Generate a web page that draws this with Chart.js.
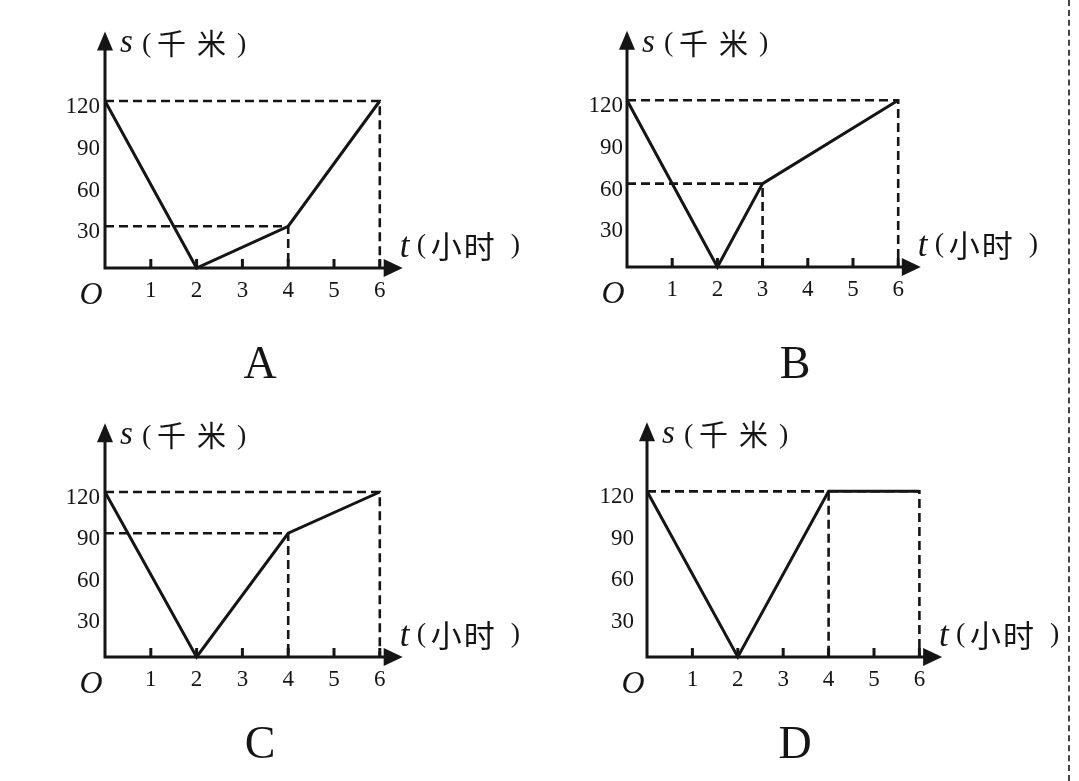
<!DOCTYPE html>
<html><head><meta charset="utf-8">
<script src="https://cdn.jsdelivr.net/npm/chart.js@4.4.1/dist/chart.umd.min.js"></script>
<style>
html,body{margin:0;padding:0;background:#fff;width:1079px;height:781px;overflow:hidden}
#wrap{position:relative;width:1079px;height:781px;background:#fff}
#wrap canvas{position:absolute;left:0;top:0}
#sep{position:absolute;left:1068px;top:0;height:781px;border-left:2px dashed #444}
</style></head><body>
<div id="wrap"><div id="sep"></div></div>
<script>
// ---- data ----
const xTicks = [1, 2, 3, 4, 5, 6];
const yTicks = [30, 60, 90, 120];
const panelLetters = ['A', 'B', 'C', 'D'];
const tA = [0, 2, 4, 6], sA = [120, 0, 30, 120];
const tB = [0, 2, 3, 6], sB = [120, 0, 60, 120];
const tC = [0, 2, 4, 6], sC = [120, 0, 90, 120];
const tD = [0, 2, 4, 6], sD = [120, 0, 120, 120];
const guidesA = [[6, 120], [4, 30]];
const guidesB = [[6, 120], [3, 60]];
const guidesC = [[6, 120], [4, 90]];
const guidesD = [[6, 120], [4, 120]];
const xMax = 6.5, yMax = 170;   // axis arrow tips
const yLabel = ['s', '(', '千', '米', ')'];
const xLabel = ['t', '(', '小', '时', ')'];

// ---- layout (positions / styles) ----
const W = 1079, H = 781, YW = 60, XH = 40;
const INK = '#151515';
const panels = [
  {t: tA, s: sA, g: guidesA, ox: 105, oy: 268, ux: 45.8, uy: 167 / 120, yPad: 5, letter: [260, 366]},
  {t: tB, s: sB, g: guidesB, ox: 627, oy: 267, ux: 45.2, uy: 166.7 / 120, yPad: 4, letter: [795, 366]},
  {t: tC, s: sC, g: guidesC, ox: 105, oy: 657, ux: 45.8, uy: 165 / 120, yPad: 5, letter: [260, 746]},
  {t: tD, s: sD, g: guidesD, ox: 647, oy: 657, ux: 45.4, uy: 165.7 / 120, yPad: 13, letter: [795, 746]}
];
const yLabelDx = [15, 37, 52, 92, 132];
const xLabelDx = [-3, 14, 28, 61, 108];
const serif = '"Liberation Serif", "Times New Roman", serif';
const cjk = '"Noto Sans CJK SC", sans-serif';

function drawPieces(ctx, pieces, offs, x0, cy, italicSize, cjkSize) {
  pieces.forEach((ch, k) => {
    const x = x0 + offs[k];
    if (k === 0) {
      ctx.font = 'italic ' + italicSize + 'px ' + serif;
      ctx.textBaseline = 'alphabetic';
      ctx.fillText(ch, x, cy + (ch === 't' ? 11 : 8));
    } else if (ch === '(' || ch === ')') {
      ctx.font = '28px ' + serif;
      ctx.textBaseline = 'middle';
      ctx.fillText(ch, x, cy);
    } else {
      ctx.font = cjkSize + 'px ' + cjk;
      ctx.textBaseline = 'middle';
      ctx.fillText(ch, x, cy);
    }
  });
}

function decoPlugin(i) {
  const p = panels[i];
  return {
    id: 'deco' + i,
    afterDatasetsDraw(chart) {
      const ctx = chart.ctx, xs = chart.scales.x, ys = chart.scales.y;
      const X = v => xs.getPixelForValue(v), Y = v => ys.getPixelForValue(v);
      const ox = X(0), oy = Y(0), tx = X(xMax), ty = Y(yMax);
      ctx.save();
      ctx.strokeStyle = INK; ctx.fillStyle = INK; ctx.lineWidth = 3; ctx.setLineDash([]);
      ctx.beginPath();
      ctx.moveTo(ox, oy + 1.5); ctx.lineTo(ox, ty + 12);
      ctx.moveTo(ox - 1.5, oy); ctx.lineTo(tx - 12, oy);
      ctx.stroke();
      ctx.beginPath(); ctx.moveTo(tx, oy); ctx.lineTo(tx - 19, oy - 9); ctx.lineTo(tx - 19, oy + 9); ctx.closePath(); ctx.fill();
      ctx.beginPath(); ctx.moveTo(ox, ty); ctx.lineTo(ox - 8, ty + 19); ctx.lineTo(ox + 8, ty + 19); ctx.closePath(); ctx.fill();
      ctx.beginPath();
      xTicks.forEach(v => { ctx.moveTo(X(v), oy); ctx.lineTo(X(v), oy - 9); });
      ctx.stroke();
      // origin
      ctx.textAlign = 'center'; ctx.textBaseline = 'middle';
      ctx.font = 'italic 32px ' + serif;
      ctx.fillText('O', ox - 14, oy + 28);
      // axis titles
      ctx.textAlign = 'left';
      drawPieces(ctx, yLabel, yLabelDx, ox, ty + 13, 33, 29);
      drawPieces(ctx, xLabel, xLabelDx, tx, oy - 22, 35, 31);
      // panel letter
      ctx.textAlign = 'center'; ctx.textBaseline = 'middle';
      ctx.font = '46px ' + serif;
      ctx.fillText(panelLetters[i], p.letter[0], p.letter[1]);
      ctx.restore();
    }
  };
}

const wrap = document.getElementById('wrap');
panels.forEach((p, i) => {
  const cv = document.createElement('canvas');
  cv.width = W; cv.height = H;
  cv.style.width = W + 'px'; cv.style.height = H + 'px';
  wrap.appendChild(cv);
  const datasets = [{
    data: p.t.map((t, k) => ({x: t, y: p.s[k]})),
    borderColor: INK, borderWidth: 3, pointRadius: 0, tension: 0, fill: false, clip: 4
  }];
  p.g.forEach(([gx, gy]) => {
    datasets.push({
      data: [{x: 0, y: gy}, {x: gx, y: gy}, {x: gx, y: 0}],
      borderColor: INK, borderWidth: 2.6, borderDash: [9, 5], pointRadius: 0, tension: 0, fill: false, clip: 4
    });
  });
  const top = p.oy - yMax * p.uy;
  new Chart(cv, {
    type: 'line',
    data: {datasets},
    options: {
      responsive: false, animation: false, devicePixelRatio: 1,
      layout: {padding: {left: p.ox - YW, top: top, right: W - (p.ox + xMax * p.ux), bottom: H - p.oy - XH}},
      plugins: {legend: {display: false}, tooltip: {enabled: false}, title: {display: false}},
      scales: {
        x: {
          type: 'linear', position: 'bottom', min: 0, max: xMax,
          grid: {display: false, drawTicks: false}, border: {display: false},
          afterBuildTicks: s => { s.ticks = xTicks.map(v => ({value: v})); },
          afterFit: s => { s.height = XH; },
          ticks: {autoSkip: false, padding: 9, color: INK, font: {family: serif, size: 23}, callback: v => String(v)}
        },
        y: {
          type: 'linear', position: 'left', min: 0, max: yMax,
          grid: {display: false, drawTicks: false}, border: {display: false},
          afterBuildTicks: s => { s.ticks = yTicks.map(v => ({value: v})); },
          afterFit: s => { s.width = YW; },
          ticks: {autoSkip: false, padding: p.yPad, labelOffset: 6, color: INK, font: {family: serif, size: 23}, callback: v => String(v)}
        }
      }
    },
    plugins: [decoPlugin(i)]
  });
});
</script>
</body></html>
